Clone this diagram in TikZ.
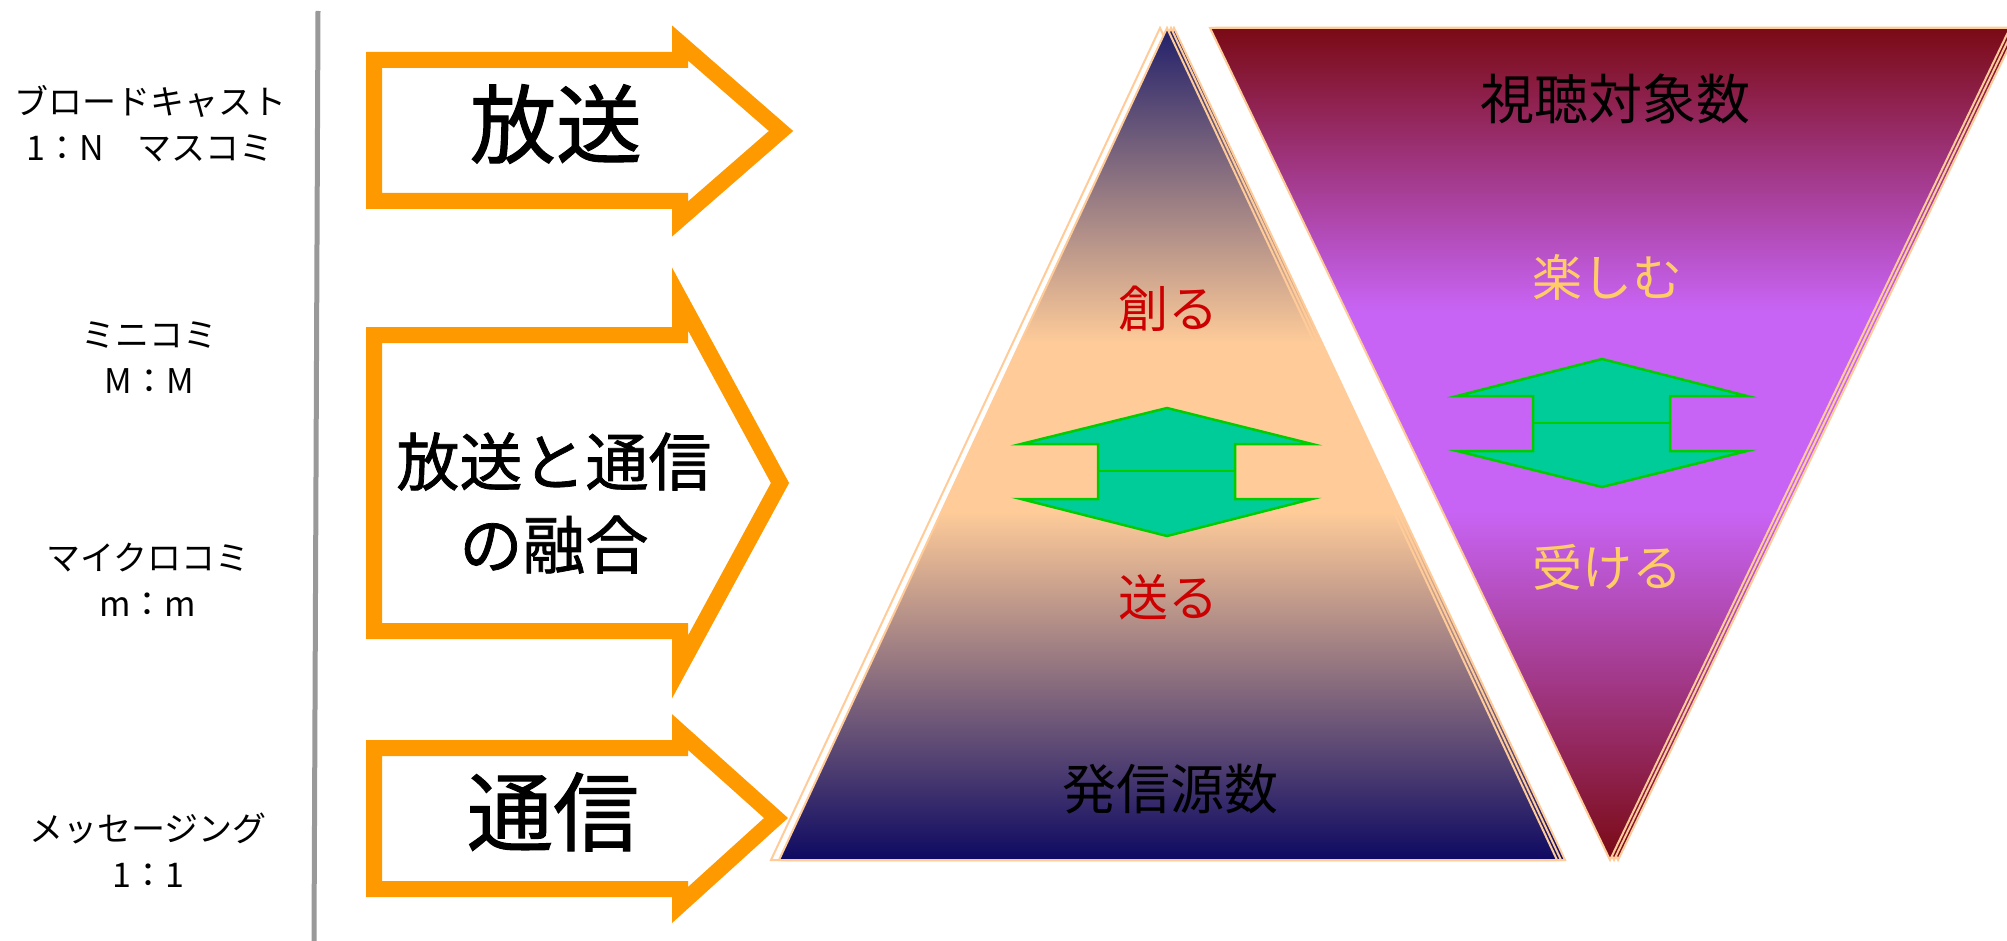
\documentclass[tikz,border=0pt]{standalone}
\usepackage{fontspec}
\setmainfont{Noto Sans CJK JP}
\newfontfamily\jpmed{Noto Sans CJK JP}[FakeBold=1.2]
\definecolor{orangeA}{HTML}{FF9900}
\definecolor{peach}{HTML}{FFCC99}
\definecolor{navyT}{HTML}{22206A}
\definecolor{navyB}{HTML}{0E0A62}
\definecolor{darkred}{HTML}{7A0A14}
\definecolor{violetM}{HTML}{C864F5}
\definecolor{tealA}{HTML}{00CC99}
\definecolor{grnA}{HTML}{00CC00}
\definecolor{redtxt}{HTML}{CC0000}
\definecolor{goldtxt}{HTML}{FFCC66}
\definecolor{grayline}{HTML}{999999}
\pgfdeclareverticalshading{pyrshade}{100bp}{color(0bp)=(navyB); color(25bp)=(navyB); color(46bp)=(peach); color(56bp)=(peach); color(75bp)=(navyT); color(100bp)=(navyT)}
\pgfdeclareverticalshading{invshade}{100bp}{color(0bp)=(darkred); color(25bp)=(darkred); color(46bp)=(violetM); color(58bp)=(violetM); color(75bp)=(darkred); color(100bp)=(darkred)}
\tikzset{
  lbl/.style={inner sep=0pt, align=center, font=\fontsize{34}{46}\selectfont},
  bigtxt/.style={inner sep=0pt, align=center, font=\jpmed\fontsize{86}{90}\selectfont},
  midtxt/.style={inner sep=0pt, align=center, font=\jpmed\fontsize{63}{83}\selectfont},
  tritxt/.style={inner sep=0pt, font=\fontsize{54}{60}\selectfont},
  verbtxt/.style={inner sep=0pt, font=\fontsize{50}{56}\selectfont},
  blockarrow/.style={draw=orangeA, line width=16pt, miter limit=10, line join=miter, fill=white},
  pyr/.style={draw=peach, line width=2pt, shading=pyrshade},
  inv/.style={draw=peach, line width=2pt, shading=invshade},
  udarrow/.style={draw=grnA, line width=2.5pt, fill=tealA, line join=miter},
}
\begin{document}
\begin{tikzpicture}[x=1pt,y=-1pt]
\useasboundingbox (0,0) rectangle (2007,941);
\fill[white] (0,0) rectangle (2007,941);

% vertical divider
\draw[grayline, line width=5pt] (318,11) -- (314,941);

% left labels
\node[lbl] (l1) at (150,124) {ブロードキャスト\\1：N　マスコミ};
\node[lbl] (l2) at (149,358) {ミニコミ\\M：M};
\node[lbl] (l3) at (148,580) {マイクロコミ\\m：m};
\node[lbl] (l4) at (148,850) {メッセージング\\1：1};

% block arrows
\draw[blockarrow] (374,60) -- (680,60) -- (680,43) -- (781,131) -- (680,219) -- (680,201) -- (374,201) -- cycle;
\draw[blockarrow] (374,335) -- (680,335) -- (680,299) -- (780,483) -- (680,667) -- (680,631) -- (374,631) -- cycle;
\draw[blockarrow] (374,748) -- (680,748) -- (680,732) -- (776,818) -- (680,905) -- (680,889) -- (374,889) -- cycle;

\node[bigtxt] (t1) at (556,124) {放送};
\node[midtxt] (t2) at (554,503) {放送と通信\\の融合};
\node[bigtxt] (t3) at (553,812) {通信};

% pyramid (senders)
\path[draw=peach, line width=2pt, fill=white] (1160,28) -- (1549,860) -- (771,860) -- cycle;
\path[pyr] (1174,28) -- (1565,860) -- (787,860) -- cycle;
\path[pyr] (1171,28) -- (1561,860) -- (783,860) -- cycle;
\path[pyr] (1167,28) -- (1557,860) -- (779,860) -- cycle;

% inverted triangle (audience)
\path[inv] (1218,28) -- (2018,28) -- (1618,860) -- cycle;
\path[inv] (1214,28) -- (2014,28) -- (1614,860) -- cycle;
\path[inv] (1210,28) -- (2010,28) -- (1610,860) -- cycle;

% up-down arrows
\draw[udarrow] (1021,444) -- (1167,408) -- (1312,444) -- (1235,444) -- (1235,499) -- (1312,499) -- (1167,536) -- (1021,499) -- (1098,499) -- (1098,444) -- cycle;
\draw[grnA, line width=2pt] (1098,471) -- (1235,471);
\draw[udarrow] (1457,396) -- (1602,359) -- (1747,396) -- (1670,396) -- (1670,451) -- (1747,451) -- (1602,487) -- (1457,451) -- (1533,451) -- (1533,396) -- cycle;
\draw[grnA, line width=2pt] (1533,423) -- (1670,423);

% texts in triangles
\node[verbtxt, text=redtxt] (c1) at (1168,309) {創る};
\node[verbtxt, text=redtxt] (c2) at (1168,597) {送る};
\node[tritxt] (c3) at (1170,789) {発信源数};
\node[tritxt] (d1) at (1615,99) {視聴対象数};
\node[verbtxt, text=goldtxt] (d2) at (1607,277) {楽しむ};
\node[verbtxt, text=goldtxt] (d3) at (1607,567) {受ける};
\end{tikzpicture}
\end{document}
